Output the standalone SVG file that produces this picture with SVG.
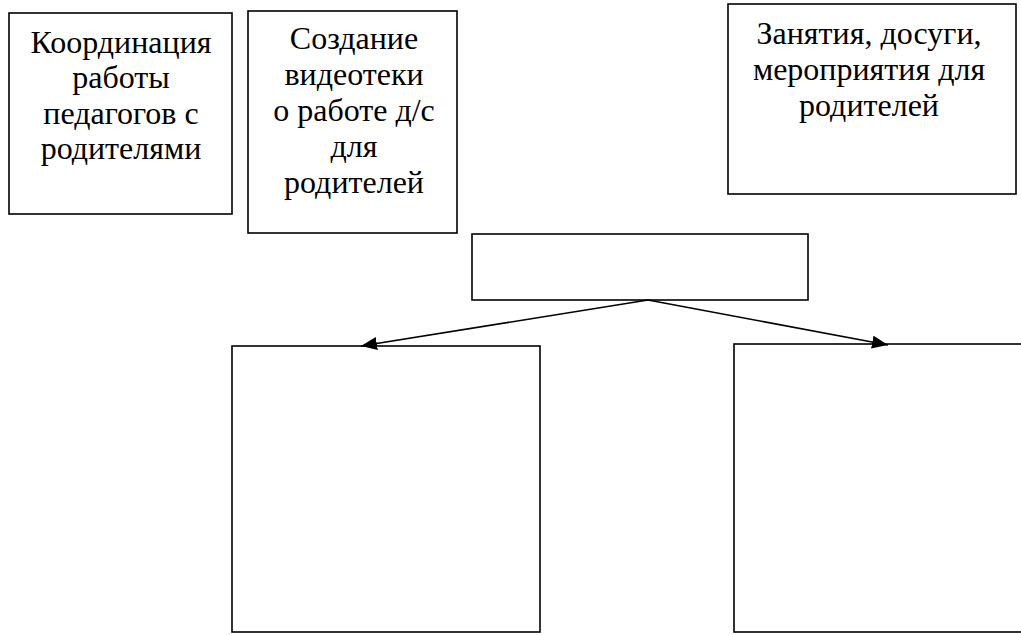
<svg xmlns="http://www.w3.org/2000/svg" width="1021" height="635" viewBox="0 0 1021 635">
<style>
.box{fill:#fff;stroke:#000;stroke-width:1.6}
.t{font-family:"Liberation Serif","Times New Roman",serif;font-size:32px;fill:#000;text-anchor:middle}
.c{stroke:#000;stroke-width:1.5;fill:none}
</style>
<defs>
<marker id="ah" markerWidth="16" markerHeight="13" refX="16" refY="6.5" orient="auto" markerUnits="userSpaceOnUse" viewBox="0 0 16 13">
<path d="M0,0 L16,6.5 L0,13 Z" fill="#000"/>
</marker>
</defs>
<rect width="1021" height="635" fill="#fff"/>
<g id="n1">
<rect class="box" x="9" y="13" width="223" height="201"/>
<text class="t" x="121" y="53">Координация</text>
<text class="t" x="121" y="88">работы</text>
<text class="t" x="121" y="124">педагогов с</text>
<text class="t" x="121" y="159">родителями</text>
</g>
<g id="n2">
<rect class="box" x="248" y="11" width="209" height="222"/>
<text class="t" x="354" y="49">Создание</text>
<text class="t" x="354" y="85">видеотеки</text>
<text class="t" x="354" y="121">о работе д/с</text>
<text class="t" x="354" y="157">для</text>
<text class="t" x="354" y="193">родителей</text>
</g>
<g id="n3">
<rect class="box" x="728" y="4" width="288" height="190"/>
<text class="t" x="869" y="44">Занятия, досуги,</text>
<text class="t" x="869" y="80">мероприятия для</text>
<text class="t" x="869" y="116">родителей</text>
</g>
<g id="n4">
<rect class="box" x="472" y="234" width="336" height="66"/>
</g>
<g id="n5">
<rect class="box" x="232" y="346" width="308" height="286"/>
</g>
<g id="n6">
<rect class="box" x="734" y="344" width="300" height="288"/>
</g>
<g id="connectors">
<line class="c" x1="648" y1="300" x2="361" y2="346" marker-end="url(#ah)"/>
<line class="c" x1="648" y1="300" x2="888" y2="345" marker-end="url(#ah)"/>
</g>
</svg>
